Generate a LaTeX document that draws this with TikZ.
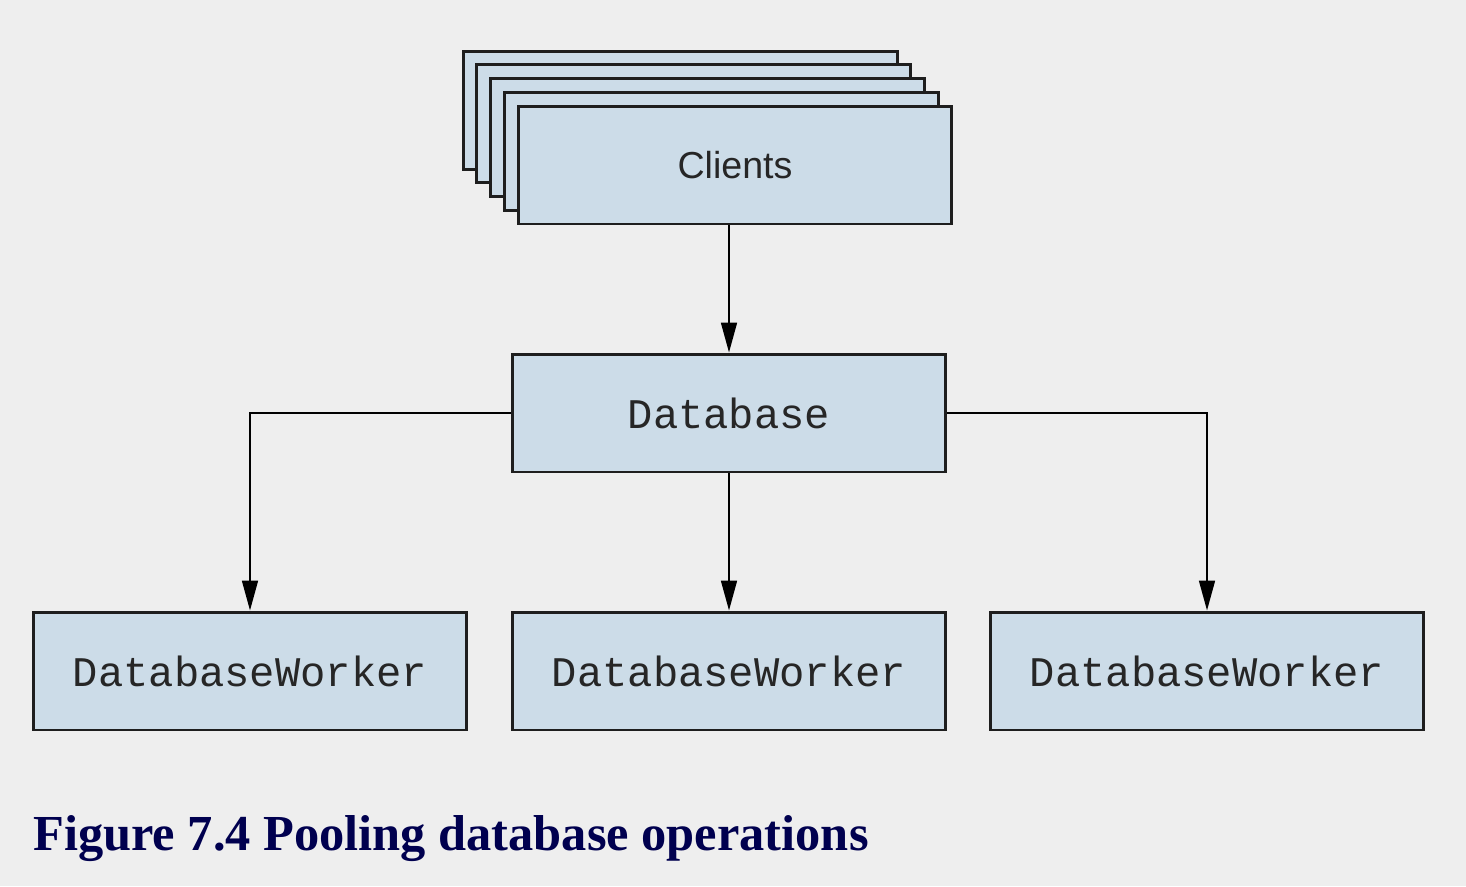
\documentclass[tikz,border=0pt]{standalone}
\usepackage{fontspec}
\setmainfont{Liberation Serif}
\setsansfont{Liberation Sans}
\setmonofont{Liberation Mono}
\usetikzlibrary{arrows.meta}
\definecolor{bg}{HTML}{EEEEEE}
\definecolor{boxfill}{HTML}{CCDCE8}
\definecolor{boxline}{HTML}{1E1E1E}
\definecolor{capcol}{HTML}{00004F}
\tikzset{
  box/.style={draw=boxline, fill=boxfill, line width=1.7pt, minimum width=8.68cm, minimum height=2.36cm, inner sep=0pt},
  conn/.style={draw=black, line width=1.2pt, -{Triangle[length=17pt,width=9pt]}},
  sanslabel/.style={font=\sffamily\fontsize{21.4}{24}\selectfont, text=black!85},
  monolabel/.style={font=\ttfamily\fontsize{24}{28}\selectfont, text=black!85}
}
\begin{document}
\begin{tikzpicture}[x=0.02cm, y=-0.02cm]
  \path[fill=bg] (0,0) rectangle (1466,886);
  \useasboundingbox (0,0) rectangle (1466,886);
  % client stack
  \node[box] (c1) at (680.2,110.2) {};
  \node[box] (c2) at (693.9,123.9) {};
  \node[box] (c3) at (707.6,137.6) {};
  \node[box] (c4) at (721.3,151.3) {};
  \node[box, sanslabel] (clients) at (735,165) {Clients};
  % database
  \node[box, monolabel] (db) at (729,413) {Database};
  % workers
  \node[box, monolabel] (w1) at (250,671) {DatabaseWorker};
  \node[box, monolabel] (w2) at (729,671) {DatabaseWorker};
  \node[box, monolabel] (w3) at (1207,671) {DatabaseWorker};
  % connectors
  \draw[conn] (clients.south -| db.north) -- (db.north);
  \draw[conn] (db.west) -| (w1.north);
  \draw[conn] (db.south) -- (w2.north);
  \draw[conn] (db.east) -| (w3.north);
  % caption
  \node[anchor=base west, inner sep=0pt, text=capcol, font=\rmfamily\bfseries\fontsize{28.7}{34}\selectfont] (cap) at (33,850) {Figure 7.4 Pooling database operations};
\end{tikzpicture}
\end{document}
